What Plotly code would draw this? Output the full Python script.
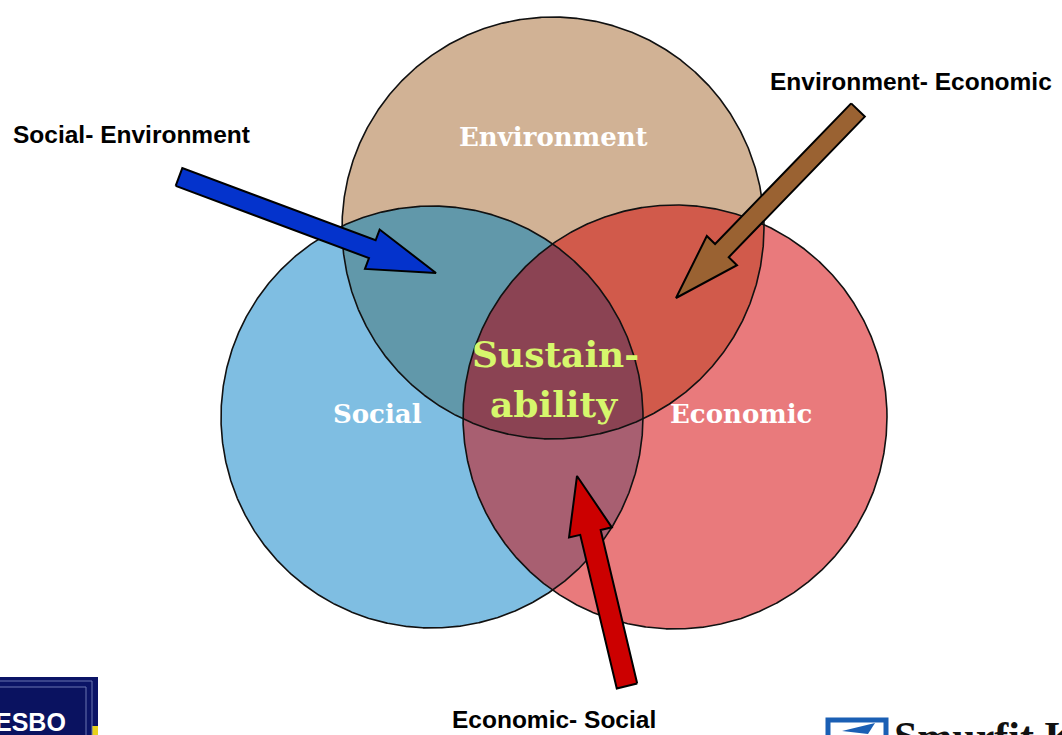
import numpy as np
import plotly.graph_objects as go

W, H = 1062, 735

# ---- data ----
circle_names = ["Environment", "Social", "Economic"]
circle_cx = [553, 432, 675]
circle_cy = [228, 417, 417]
circle_r = [211, 211, 212]
circle_colors = ["#d1b295", "#7fbee2", "#e97a7c"]

pair_regions = [(0, 1), (0, 2), (1, 2)]
pair_colors = ["#6198aa", "#d15a4b", "#a85f71"]
triple_color = "#8b4353"

arrow_labels = ["Social- Environment", "Environment- Economic", "Economic- Social"]
arrow_tail = [(179, 177), (858, 110), (627, 686)]
arrow_tip = [(436, 273), (676, 298), (577, 476)]
arrow_colors = ["#0433cc", "#9a6232", "#cc0000"]
arrow_shaft = [19, 19, 21]
arrow_head_w = [42, 42, 44]
arrow_head_len = [68, 66, 58]

label_pos = [(131, 134), (911, 81), (554, 719)]
circle_label_pos = [(553, 137), (377, 414), (741, 414)]
center_text = ["Sustain-", "ability"]
center_pos = [(555, 354), (554, 404)]


def circle_pts(i, n=1440):
    t = np.linspace(0, 2 * np.pi, n)
    return circle_cx[i] + circle_r[i] * np.cos(t), circle_cy[i] + circle_r[i] * np.sin(t)


def inside(x, y, i):
    return (x - circle_cx[i]) ** 2 + (y - circle_cy[i]) ** 2 <= circle_r[i] ** 2 * (1 + 1e-4)


def intersection(idx):
    xs, ys = [], []
    for i in idx:
        x, y = circle_pts(i, 4000)
        m = np.ones_like(x, dtype=bool)
        for j in idx:
            if j != i:
                m &= inside(x, y, j)
        xs.append(x[m]); ys.append(y[m])
    x = np.concatenate(xs); y = np.concatenate(ys)
    cx, cy = x.mean(), y.mean()
    o = np.argsort(np.arctan2(y - cy, x - cx))
    x, y = x[o], y[o]
    return np.append(x, x[0]), np.append(y, y[0])


def arrow_poly(k):
    tx, ty = arrow_tail[k]
    px, py = arrow_tip[k]
    d = np.array([px - tx, py - ty], float)
    d /= np.linalg.norm(d)
    p = np.array([-d[1], d[0]])
    tail = np.array([tx, ty], float)
    tip = np.array([px, py], float)
    base = tip - d * arrow_head_len[k]
    sw, hw = arrow_shaft[k] / 2, arrow_head_w[k] / 2
    pts = [tail + p * sw, base + p * sw, base + p * hw, tip,
           base - p * hw, base - p * sw, tail - p * sw, tail + p * sw]
    return [q[0] for q in pts], [q[1] for q in pts]


fig = go.Figure()

for i in range(3):
    x, y = circle_pts(i)
    fig.add_trace(go.Scatter(x=x, y=y, mode="lines", fill="toself",
                             fillcolor=circle_colors[i], line=dict(width=0),
                             hoverinfo="skip", showlegend=False))
for (a, b), c in zip(pair_regions, pair_colors):
    x, y = intersection([a, b])
    fig.add_trace(go.Scatter(x=x, y=y, mode="lines", fill="toself",
                             fillcolor=c, line=dict(width=0),
                             hoverinfo="skip", showlegend=False))
x, y = intersection([0, 1, 2])
fig.add_trace(go.Scatter(x=x, y=y, mode="lines", fill="toself",
                         fillcolor=triple_color, line=dict(width=0),
                         hoverinfo="skip", showlegend=False))
for i in range(3):
    x, y = circle_pts(i)
    fig.add_trace(go.Scatter(x=x, y=y, mode="lines",
                             line=dict(color="#111111", width=1.6),
                             hoverinfo="skip", showlegend=False))
for k in range(3):
    x, y = arrow_poly(k)
    fig.add_trace(go.Scatter(x=x, y=y, mode="lines", fill="toself",
                             fillcolor=arrow_colors[k],
                             line=dict(color="#000000", width=2),
                             hoverinfo="skip", showlegend=False))

annotations = []
for name, (x, y) in zip(circle_names, circle_label_pos):
    annotations.append(dict(x=x, y=y, text="<b>%s</b>" % name, showarrow=False,
                            font=dict(family="DejaVu Serif", size=26, color="white"),
                            xanchor="center", yanchor="middle"))
for t, (x, y) in zip(center_text, center_pos):
    annotations.append(dict(x=x, y=y, text="<b>%s</b>" % t, showarrow=False,
                            font=dict(family="DejaVu Serif", size=36, color="#d6f76c"),
                            xanchor="center", yanchor="middle"))
for t, (x, y) in zip(arrow_labels, label_pos):
    annotations.append(dict(x=x, y=y, text="<b>%s</b>" % t, showarrow=False,
                            font=dict(family="Liberation Sans", size=24.5, color="black"),
                            xanchor="center", yanchor="middle"))

# logos (decorative)
shapes = [
    dict(type="rect", xref="x", yref="y", x0=-5, x1=98, y0=677, y1=740,
         fillcolor="#0b1466", line=dict(width=0), layer="above"),
    dict(type="rect", xref="x", yref="y", x0=92, x1=98, y0=726, y1=740,
         fillcolor="#e8d21a", line=dict(width=0), layer="above"),
    dict(type="rect", xref="x", yref="y", x0=-5, x1=92, y0=681, y1=740,
         fillcolor="rgba(0,0,0,0)", line=dict(color="#6a74b0", width=1), layer="above"),
    dict(type="rect", xref="x", yref="y", x0=-5, x1=86, y0=687, y1=740,
         fillcolor="#0a1260", line=dict(color="#6a74b0", width=1), layer="above"),
    dict(type="rect", xref="x", yref="y", x0=828, x1=886, y0=720, y1=745,
         fillcolor="white", line=dict(color="#1a5fb4", width=5), layer="above"),
    dict(type="path", xref="x", yref="y",
         path="M 875 723 L 842 731 L 868 734 Z", fillcolor="#1a5fb4",
         line=dict(width=0), layer="above"),
]
annotations.append(dict(x=30, y=722, text="<b>ESBO</b>", showarrow=False,
                        font=dict(family="Liberation Sans", size=25, color="white"),
                        xanchor="center", yanchor="middle"))
annotations.append(dict(x=892, y=712, text="<b>Smurfit K</b>", showarrow=False,
                        font=dict(family="Liberation Serif", size=42, color="#111111"),
                        xanchor="left", yanchor="top"))

fig.update_layout(
    width=W, height=H, margin=dict(l=0, r=0, t=0, b=0),
    paper_bgcolor="white", plot_bgcolor="white",
    xaxis=dict(range=[0, W], visible=False, fixedrange=True),
    yaxis=dict(range=[H, 0], visible=False, fixedrange=True),
    annotations=annotations, shapes=shapes, showlegend=False,
)

fig.write_html("out.html", config={"displayModeBar": False},
               post_script="document.body.style.margin='0px';document.body.style.overflow='hidden';")
